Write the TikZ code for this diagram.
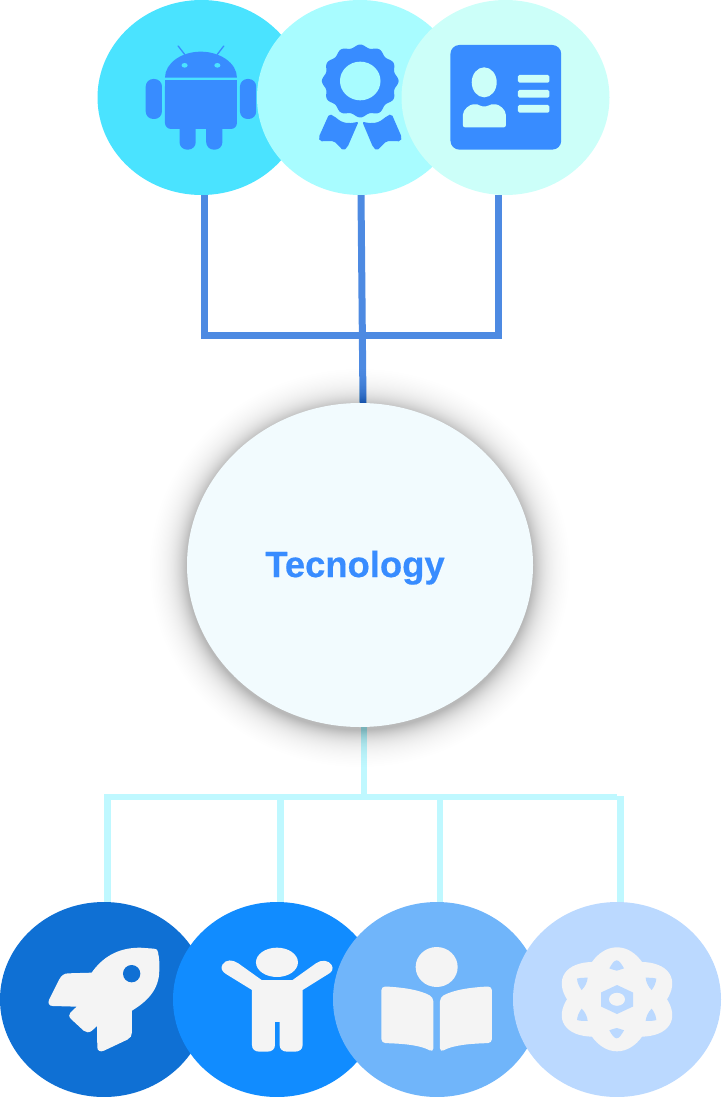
\documentclass[tikz,border=0pt]{standalone}
\usepackage{fontspec}
\setmainfont{Liberation Sans}
\newfontfamily\hubfont[FakeBold=0.5]{Liberation Sans Bold}
\usetikzlibrary{shapes.geometric}
\definecolor{cA}{HTML}{4AE3FF}
\definecolor{cB}{HTML}{A8FCFF}
\definecolor{cC}{HTML}{CCFFF9}
\definecolor{iconblue}{HTML}{388CFF}
\definecolor{dA}{HTML}{0F70D4}
\definecolor{dB}{HTML}{118CFF}
\definecolor{dC}{HTML}{70B5FA}
\definecolor{dD}{HTML}{BBD9FF}
\definecolor{iconlight}{HTML}{F4F4F4}
\definecolor{hubfill}{HTML}{F2FBFE}
\definecolor{lineblue}{HTML}{4D8AE2}
\definecolor{linecyan}{HTML}{BFF8FF}
\pgfdeclarelayer{lines}
\pgfdeclarelayer{shadowlayer}
\pgfsetlayers{lines,shadowlayer,main}
\tikzset{
  disc/.style={ellipse,inner sep=0pt,outer sep=0pt,minimum width=208pt,minimum height=195pt},
  topline/.style={draw=lineblue,line width=7pt,miter limit=10},
  botline/.style={draw=linecyan,line width=6.8pt},
  iconA/.style={fill=iconblue,draw=none},
  iconB/.style={fill=iconlight,draw=none},
  topzoom/.style={shift={(90,0)},x=0.3378pt,y=-0.3333pt},
  botzoomA/.style={shift={(0,900)},x=0.3333pt,y=-0.3333pt},
  botzoomB/.style={shift={(340,900)},x=0.3333pt,y=-0.3333pt},
  atomzoom/.style={shift={(550,935)},x=0.3333pt,y=-0.3333pt}
}
\begin{document}
\begin{tikzpicture}[x=1pt,y=-1pt]
\useasboundingbox (0,0) rectangle (721,1097);

% ---------- top row ----------
\node[disc,fill=cA] (top1) at (201.5,97.5) {};
\begin{scope}[topzoom]
  \fill[iconA] (222,233) .. controls (222,190) and (270,155) .. (328,155) .. controls (386,155) and (435,190) .. (435,233) -- cycle;
  \fill[cA] (280,196) ellipse [x radius=9,y radius=7];
  \fill[cA] (377,196) ellipse [x radius=9,y radius=7];
  \draw[iconblue,line width=1.3pt,line cap=round] (261,138) -- (280,163);
  \draw[iconblue,line width=1.3pt,line cap=round] (396,138) -- (377,163);
  \fill[iconA,rounded corners=6pt] (222,241) -- (435,241) -- (435,387) -- (222,387) -- cycle;
  \fill[iconA] (222,241) rectangle (435,300);
  \fill[iconA,rounded corners=7.5pt] (165,237) rectangle (213,357);
  \fill[iconA,rounded corners=7.5pt] (444,237) rectangle (492,357);
  \fill[iconA,rounded corners=7.5pt] (265,360) rectangle (313,449);
  \fill[iconA,rounded corners=7.5pt] (344,360) rectangle (392,449);
\end{scope}

\node[disc,fill=cB,minimum width=206pt] (top2) at (360,97.5) {};
\begin{scope}[topzoom]
  \fill[iconA] plot[domain=0:360,samples=144,smooth] ({800+(109+4.5*cos(12*\x))*cos(\x)},{243+(105+4.5*cos(12*\x))*sin(\x)}) -- cycle;
  \fill[cB] (800,243) ellipse [x radius=60,y radius=58];
  \fill[iconA,rounded corners=2pt] (708,342) .. controls (735,352) and (740,378) .. (795,365) -- (762,442) -- (750,452) -- (722,423) -- (680,424) -- (677,412) -- cycle;
  \fill[iconA,rounded corners=2pt] (893,342) .. controls (866,352) and (861,378) .. (806,365) -- (838,442) -- (850,452) -- (878,423) -- (920,424) -- (923,412) -- cycle;
\end{scope}

\node[disc,fill=cC] (top3) at (505.5,97.5) {};
\begin{scope}[topzoom]
  \fill[iconA,rounded corners=9pt] (1067,135) rectangle (1395,449);
  \fill[cC] (1167,247) ellipse [x radius=37,y radius=45];
  \fill[cC,rounded corners=2pt] (1104,382) -- (1104,350) .. controls (1104,328) and (1125,313) .. (1140,313) .. controls (1150,313) and (1155,319) .. (1167,319) .. controls (1179,319) and (1184,313) .. (1195,313) .. controls (1210,313) and (1231,328) .. (1231,350) -- (1231,382) -- cycle;
  \fill[cC,rounded corners=1.5pt] (1267,225) rectangle (1360,248);
  \fill[cC,rounded corners=1.5pt] (1267,270) rectangle (1360,293);
  \fill[cC,rounded corners=1.5pt] (1267,315) rectangle (1360,338);
\end{scope}

% ---------- hub ----------
\node[ellipse,inner sep=0pt,outer sep=0pt,fill=hubfill,minimum width=346pt,minimum height=324pt] (hub) at (360,565) {};
\node[inner sep=0pt,anchor=base,text=iconblue,font=\hubfont\fontsize{36.4}{40}\selectfont] (hubtext) at (355,577) {Tecnology};

% ---------- bottom row ----------
\node[disc,fill=dA] (bot1) at (104,999.5) {};
\begin{scope}[botzoomA]
  \fill[iconB] (205,220) -- (275,218) .. controls (305,175) and (350,143) .. (420,143) -- (462,146) .. controls (470,146) and (473,150) .. (474,156) .. controls (478,175) and (479,195) .. (478,210) .. controls (478,270) and (440,305) .. (396,332) -- (396,397) .. controls (396,407) and (391,415) .. (382,419) -- (312,452) .. controls (300,457) and (292,452) .. (292,442) -- (291,378) -- (276,392) .. controls (268,399) and (258,398) .. (251,392) -- (213,357) .. controls (206,350) and (206,342) .. (212,337) -- (230,320) -- (158,318) .. controls (147,318) and (143,309) .. (147,300) -- (178,238) .. controls (184,226) and (193,220) .. (205,220) -- cycle;
  \fill[dA] (395,221) circle [radius=26];
\end{scope}

\node[disc,fill=dB] (bot2) at (277,999.5) {};
\begin{scope}[botzoomA]
  \fill[iconB] (831,187) ellipse [x radius=63,y radius=44];
  \fill[iconB] (785,240) -- (878,240) -- (948,190) .. controls (965,178) and (985,180) .. (995,195) .. controls (1002,207) and (995,217) .. (985,222) -- (908,270) -- (908,435) .. controls (908,448) and (898,455) .. (885,455) -- (862,455) .. controls (848,455) and (839,448) .. (839,435) -- (839,366) -- (825,366) -- (825,435) .. controls (825,448) and (815,455) .. (802,455) -- (779,455) .. controls (765,455) and (756,448) .. (756,435) -- (756,270) -- (678,222) .. controls (667,215) and (660,205) .. (668,193) .. controls (678,178) and (698,178) .. (715,190) -- cycle;
\end{scope}

\node[disc,fill=dC] (bot3) at (437,999.5) {};
\begin{scope}[botzoomB]
  \fill[iconB] (290,201) ellipse [x radius=63,y radius=60];
  \fill[iconB,rounded corners=4pt] (124,259) .. controls (190,262) and (240,270) .. (280,292) -- (280,457) .. controls (240,435) and (190,431) .. (124,429) -- cycle;
  \fill[iconB,rounded corners=4pt] (456,259) .. controls (390,262) and (340,270) .. (300,292) -- (300,457) .. controls (340,435) and (390,431) .. (456,429) -- cycle;
\end{scope}

\node[disc,fill=dD,minimum width=208pt] (bot4) at (617,999.5) {};
\begin{scope}[shift={(617,999.3)},xscale=1.16]
  \fill[iconlight] (0,0) ellipse [x radius=31,y radius=52];
  \fill[iconlight,rotate=60] (0,0) ellipse [x radius=31,y radius=52];
  \fill[iconlight,rotate=-60] (0,0) ellipse [x radius=31,y radius=52];
\end{scope}
\begin{scope}[atomzoom]
  \fill[dD] (178,100) .. controls (185,88) and (192,76) .. (200,76) .. controls (208,76) and (215,88) .. (222,100) .. controls (215,103) and (207,105) .. (200,107) .. controls (193,105) and (185,103) .. (178,100) -- cycle;
  \fill[dD] (178,286) .. controls (185,298) and (192,310) .. (200,310) .. controls (208,310) and (215,298) .. (222,286) .. controls (215,283) and (207,281) .. (200,279) .. controls (193,281) and (185,283) .. (178,286) -- cycle;
  \fill[dD] (81,131) .. controls (90,128) and (102,128) .. (113,128) .. controls (112,140) and (106,155) .. (95,165) .. controls (87,155) and (82,143) .. (81,131) -- cycle;
  \fill[dD] (319,131) .. controls (310,128) and (298,128) .. (287,128) .. controls (288,140) and (294,155) .. (305,165) .. controls (313,155) and (318,143) .. (319,131) -- cycle;
  \fill[dD] (81,255) .. controls (90,258) and (102,258) .. (113,258) .. controls (112,246) and (106,231) .. (95,221) .. controls (87,231) and (82,243) .. (81,255) -- cycle;
  \fill[dD] (319,255) .. controls (310,258) and (298,258) .. (287,258) .. controls (288,246) and (294,231) .. (305,221) .. controls (313,231) and (318,243) .. (319,255) -- cycle;
\end{scope}
\fill[dD] (617,985) -- (633,992.5) -- (633,1006.5) -- (617,1014) -- (601,1006.5) -- (601,992.5) -- cycle;
\fill[iconlight] (617,999.3) ellipse [x radius=8,y radius=6.5];

% ---------- connectors ----------
\coordinate (tjoin) at (363,335.5);
\coordinate (bjoin) at (364,797);
\coordinate (busend) at (617,797);
\coordinate (busdrop) at (620.5,796);
\coordinate (drop2) at (280.5,797);
\coordinate (drop3) at (440,797);
\begin{pgfonlayer}{lines}
  \draw[topline] ([xshift=3pt]top1.south) |- (tjoin) -| ([xshift=-7pt]top3.south);
  \draw[topline] ([xshift=1pt]top2.south) -- ([xshift=3pt]hub.north);
  \draw[botline,line width=6.2pt] ([xshift=4pt]hub.south) -- (bjoin);
  \draw[botline] ([xshift=3.5pt]bot1.north) |- (busend);
  \draw[botline] ([xshift=3.5pt]bot2.north) -- (drop2);
  \draw[botline] ([xshift=3pt]bot3.north) -- (drop3);
  \draw[botline] ([xshift=3.5pt]bot4.north) -- (busdrop);
\end{pgfonlayer}

% ---------- hub shadow ----------
\begin{pgfonlayer}{shadowlayer}
  \foreach \i in {1,...,70}{
    \pgfmathsetmacro\grow{12*tan(72*\i/70)}
    \fill[black,opacity=0.0052] (360,568) ellipse [x radius=173+\grow,y radius=162+\grow];
  }
\end{pgfonlayer}
\end{tikzpicture}
\end{document}
